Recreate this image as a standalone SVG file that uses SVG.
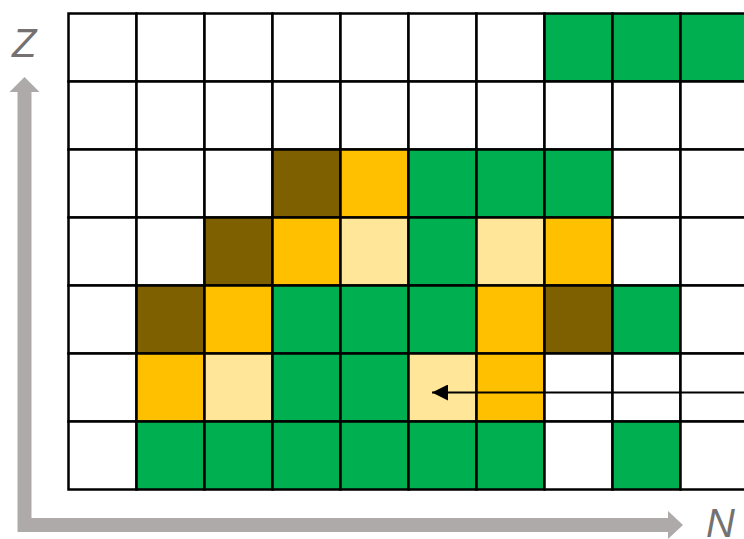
<svg xmlns="http://www.w3.org/2000/svg" width="744" height="539" viewBox="0 0 744 539">
<style>
.c{stroke:#000;stroke-width:2.5}
.w{fill:#fff}.g{fill:#00B050}.o{fill:#FFC000}.y{fill:#FFE699}.b{fill:#7F6000}
.ax{fill:none;stroke:#AEAAAA;stroke-width:14;stroke-linejoin:miter}
.ah{fill:#AEAAAA}
.lbl{font-family:"Liberation Sans",Arial,sans-serif;font-style:italic;font-size:40px;fill:#767171}
</style>
<defs>
<marker id="arr" viewBox="0 0 16 16" refX="16" refY="8" markerWidth="16" markerHeight="16" markerUnits="userSpaceOnUse" orient="auto-start-reverse">
<path d="M0,0 L16,8 L0,16 z" fill="#000"/>
</marker>
</defs>
<rect width="744" height="539" fill="#fff"/>
<g id="axes">
<path class="ax" d="M24.5,90 L24.5,525 L670,525"/>
<polygon class="ah" points="24.5,77 39.5,92 9.5,92"/>
<polygon class="ah" points="683,525 668,511 668,539"/>
<text class="lbl" x="12" y="57">Z</text>
<text class="lbl" x="706" y="537">N</text>
</g>
<g id="grid">
<g id="row0" transform="translate(0,13.5)">
<rect class="c w" x="68.5" width="68" height="68"/><rect class="c w" x="136.5" width="68" height="68"/><rect class="c w" x="204.5" width="68" height="68"/><rect class="c w" x="272.5" width="68" height="68"/><rect class="c w" x="340.5" width="68" height="68"/><rect class="c w" x="408.5" width="68" height="68"/><rect class="c w" x="476.5" width="68" height="68"/><rect class="c g" x="544.5" width="68" height="68"/><rect class="c g" x="612.5" width="68" height="68"/><rect class="c g" x="680.5" width="68" height="68"/>
</g>
<g id="row1" transform="translate(0,81.5)">
<rect class="c w" x="68.5" width="68" height="68"/><rect class="c w" x="136.5" width="68" height="68"/><rect class="c w" x="204.5" width="68" height="68"/><rect class="c w" x="272.5" width="68" height="68"/><rect class="c w" x="340.5" width="68" height="68"/><rect class="c w" x="408.5" width="68" height="68"/><rect class="c w" x="476.5" width="68" height="68"/><rect class="c w" x="544.5" width="68" height="68"/><rect class="c w" x="612.5" width="68" height="68"/><rect class="c w" x="680.5" width="68" height="68"/>
</g>
<g id="row2" transform="translate(0,149.5)">
<rect class="c w" x="68.5" width="68" height="68"/><rect class="c w" x="136.5" width="68" height="68"/><rect class="c w" x="204.5" width="68" height="68"/><rect class="c b" x="272.5" width="68" height="68"/><rect class="c o" x="340.5" width="68" height="68"/><rect class="c g" x="408.5" width="68" height="68"/><rect class="c g" x="476.5" width="68" height="68"/><rect class="c g" x="544.5" width="68" height="68"/><rect class="c w" x="612.5" width="68" height="68"/><rect class="c w" x="680.5" width="68" height="68"/>
</g>
<g id="row3" transform="translate(0,217.5)">
<rect class="c w" x="68.5" width="68" height="68"/><rect class="c w" x="136.5" width="68" height="68"/><rect class="c b" x="204.5" width="68" height="68"/><rect class="c o" x="272.5" width="68" height="68"/><rect class="c y" x="340.5" width="68" height="68"/><rect class="c g" x="408.5" width="68" height="68"/><rect class="c y" x="476.5" width="68" height="68"/><rect class="c o" x="544.5" width="68" height="68"/><rect class="c w" x="612.5" width="68" height="68"/><rect class="c w" x="680.5" width="68" height="68"/>
</g>
<g id="row4" transform="translate(0,285.5)">
<rect class="c w" x="68.5" width="68" height="68"/><rect class="c b" x="136.5" width="68" height="68"/><rect class="c o" x="204.5" width="68" height="68"/><rect class="c g" x="272.5" width="68" height="68"/><rect class="c g" x="340.5" width="68" height="68"/><rect class="c g" x="408.5" width="68" height="68"/><rect class="c o" x="476.5" width="68" height="68"/><rect class="c b" x="544.5" width="68" height="68"/><rect class="c g" x="612.5" width="68" height="68"/><rect class="c w" x="680.5" width="68" height="68"/>
</g>
<g id="row5" transform="translate(0,353.5)">
<rect class="c w" x="68.5" width="68" height="68"/><rect class="c o" x="136.5" width="68" height="68"/><rect class="c y" x="204.5" width="68" height="68"/><rect class="c g" x="272.5" width="68" height="68"/><rect class="c g" x="340.5" width="68" height="68"/><rect class="c y" x="408.5" width="68" height="68"/><rect class="c o" x="476.5" width="68" height="68"/><rect class="c w" x="544.5" width="68" height="68"/><rect class="c w" x="612.5" width="68" height="68"/><rect class="c w" x="680.5" width="68" height="68"/>
</g>
<g id="row6" transform="translate(0,421.5)">
<rect class="c w" x="68.5" width="68" height="68"/><rect class="c g" x="136.5" width="68" height="68"/><rect class="c g" x="204.5" width="68" height="68"/><rect class="c g" x="272.5" width="68" height="68"/><rect class="c g" x="340.5" width="68" height="68"/><rect class="c g" x="408.5" width="68" height="68"/><rect class="c g" x="476.5" width="68" height="68"/><rect class="c w" x="544.5" width="68" height="68"/><rect class="c g" x="612.5" width="68" height="68"/><rect class="c w" x="680.5" width="68" height="68"/>
</g>
</g>
<g id="connectors">
<line x1="750" y1="392.5" x2="432" y2="392.5" stroke="#000" stroke-width="2" marker-end="url(#arr)"/>
</g>
</svg>
